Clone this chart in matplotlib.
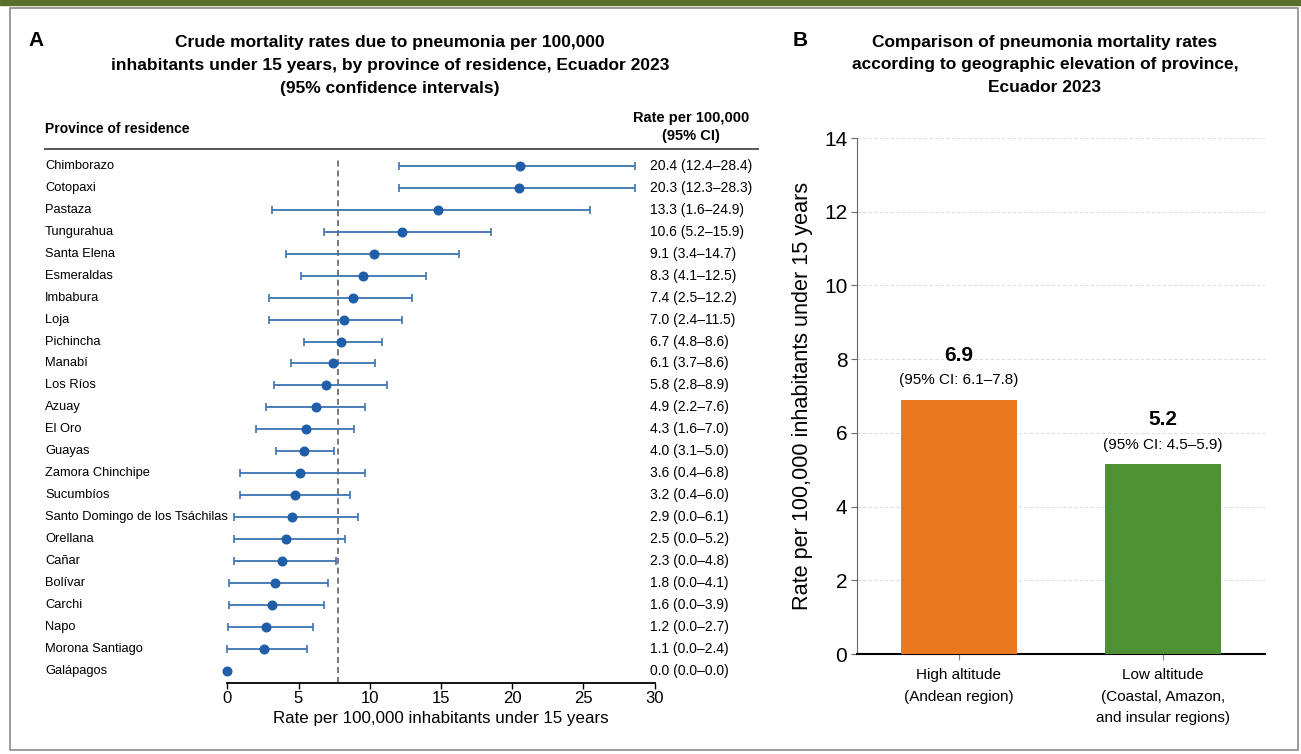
import numpy as np
import matplotlib.pyplot as plt
from matplotlib.patches import Rectangle
from matplotlib.transforms import blended_transform_factory

plt.rcParams['font.family'] = ['Liberation Sans', 'DejaVu Sans']

# ---- panel A data ----
provinces = ['Chimborazo', 'Cotopaxi', 'Pastaza', 'Tungurahua', 'Santa Elena', 'Esmeraldas',
             'Imbabura', 'Loja', 'Pichincha', 'Manabí', 'Los Ríos', 'Azuay', 'El Oro', 'Guayas',
             'Zamora Chinchipe', 'Sucumbíos', 'Santo Domingo de los Tsáchilas', 'Orellana',
             'Cañar', 'Bolívar', 'Carchi', 'Napo', 'Morona Santiago', 'Galápagos']
# positions as drawn in the plot
rate_pt = [20.55, 20.5, 14.8, 12.3, 10.3, 9.55, 8.8, 8.2, 8.0, 7.4, 6.9, 6.2, 5.5, 5.4,
           5.1, 4.75, 4.55, 4.15, 3.85, 3.35, 3.15, 2.75, 2.55, 0.0]
ci_low = [12.05, 12.05, 3.15, 6.8, 4.15, 5.15, 2.95, 2.95, 5.4, 4.45, 3.25, 2.7, 2.0, 3.45,
          0.9, 0.9, 0.5, 0.5, 0.45, 0.15, 0.15, 0.05, 0.0, 0.0]
ci_high = [28.65, 28.65, 25.5, 18.55, 16.3, 13.95, 12.95, 12.25, 10.85, 10.4, 11.2, 9.7, 8.9, 7.5,
           9.65, 8.65, 9.15, 8.25, 7.65, 7.05, 6.8, 6.05, 5.6, 0.0]
# printed values (right column)
rate_txt = [20.4, 20.3, 13.3, 10.6, 9.1, 8.3, 7.4, 7.0, 6.7, 6.1, 5.8, 4.9, 4.3, 4.0,
            3.6, 3.2, 2.9, 2.5, 2.3, 1.8, 1.6, 1.2, 1.1, 0.0]
lo_txt = [12.4, 12.3, 1.6, 5.2, 3.4, 4.1, 2.5, 2.4, 4.8, 3.7, 2.8, 2.2, 1.6, 3.1,
          0.4, 0.4, 0.0, 0.0, 0.0, 0.0, 0.0, 0.0, 0.0, 0.0]
hi_txt = [28.4, 28.3, 24.9, 15.9, 14.7, 12.5, 12.2, 11.5, 8.6, 8.6, 8.9, 7.6, 7.0, 5.0,
          6.8, 6.0, 6.1, 5.2, 4.8, 4.1, 3.9, 2.7, 2.4, 0.0]
national_rate = 7.75

# ---- panel B data ----
regions = ['High altitude\n(Andean region)', 'Low altitude\n(Coastal, Amazon,\nand insular regions)']
region_rate = [6.9, 5.15]
region_label = ['6.9', '5.2']
region_ci = ['6.1–7.8', '4.5–5.9']
region_colors = ['#E8771D', '#4E9134']

W, H = 1301, 754
fig = plt.figure(figsize=(W / 100, H / 100), dpi=100)

# frame and top band
fig.patches.append(Rectangle((0, 1 - 5 / H), 1, 5 / H, transform=fig.transFigure,
                             color='#5b6e2b', zorder=0))
fig.patches.append(Rectangle((10 / W, 4 / H), 1288 / W, 1 - 12 / H, transform=fig.transFigure,
                             fill=False, edgecolor='#8a8a8a', linewidth=1.2, zorder=0))

# ================= Panel A =================
axA = fig.add_axes([227.3 / W, 1 - 683 / H, 427.2 / W, 533 / H])
y = np.arange(len(provinces))
xerr = [np.array(rate_pt) - np.array(ci_low), np.array(ci_high) - np.array(rate_pt)]
axA.errorbar(rate_pt, y, xerr=xerr, fmt='none', ecolor='#3b73b2', elinewidth=1.3,
             capsize=2.6, capthick=1.2, clip_on=False, zorder=3)
axA.plot(rate_pt, y, 'o', color='#1f5ea8', markersize=6.2, clip_on=False, zorder=4)
axA.axvline(national_rate, ymax=0.985, color='#555555', linestyle=(0, (4, 2.5)),
            linewidth=1.1, zorder=2)

axA.set_xlim(0, 30)
axA.set_ylim(23.55, -0.72)
axA.set_xticks([0, 5, 10, 15, 20, 25, 30])
axA.set_yticks([])
for s in ['left', 'top', 'right']:
    axA.spines[s].set_visible(False)
axA.spines['bottom'].set_linewidth(1.3)
axA.tick_params(axis='x', length=4, width=1, labelsize=12, pad=2)
axA.set_xlabel('Rate per 100,000 inhabitants under 15 years', fontsize=12.2, labelpad=3)

trA = blended_transform_factory(fig.transFigure, axA.transData)
for i, name in enumerate(provinces):
    axA.text(45 / W, i, name, transform=trA, ha='left', va='center', fontsize=9.3)
    axA.text(650 / W, i, f'{rate_txt[i]:.1f} ({lo_txt[i]:.1f}–{hi_txt[i]:.1f})',
             transform=trA, ha='left', va='center', fontsize=10)

fig.text(45 / W, 1 - 129 / H, 'Province of residence', fontsize=10, fontweight='bold',
         ha='left', va='center')
fig.text(691 / W, 1 - 127 / H, 'Rate per 100,000\n(95% CI)', fontsize=10.5, fontweight='bold',
         ha='center', va='center', linespacing=1.4)
fig.add_artist(plt.Line2D([45 / W, 758 / W], [1 - 149 / H, 1 - 149 / H],
                          color='#555555', linewidth=1.4))

fig.text(28 / W, 1 - 40 / H, 'A', fontsize=15, fontweight='bold', ha='left', va='center')
fig.text(390 / W, 1 - 65.5 / H,
         'Crude mortality rates due to pneumonia per 100,000\n'
         'inhabitants under 15 years, by province of residence, Ecuador 2023\n'
         '(95% confidence intervals)',
         fontsize=12.5, fontweight='bold', ha='center', va='center', linespacing=1.65)

# ================= Panel B =================
axB = fig.add_axes([857 / W, 1 - 654 / H, 408 / W, 516 / H])
xb = np.arange(len(regions))
axB.bar(xb, region_rate, width=0.57, color=region_colors, zorder=3)
axB.set_xlim(-0.5, 1.5)
axB.set_ylim(0, 14)
axB.set_yticks(np.arange(0, 15, 2))
axB.set_xticks(xb)
axB.set_xticklabels(regions, fontsize=11, linespacing=1.7)
axB.yaxis.grid(True, color='#dddddd', linestyle=(0, (3, 2)), linewidth=0.8, zorder=0)
for s in ['top', 'right']:
    axB.spines[s].set_visible(False)
axB.spines['left'].set_color('#666666')
axB.spines['bottom'].set_linewidth(1.5)
axB.tick_params(axis='y', labelsize=15, length=4, color='#666666', pad=3)
axB.tick_params(axis='x', length=4, color='#888888', pad=6)
axB.set_ylabel('Rate per 100,000 inhabitants under 15 years', fontsize=15.6, labelpad=8)

for i in range(len(regions)):
    axB.annotate(region_label[i], (xb[i], region_rate[i]), xytext=(0, 32),
                 textcoords='offset points', ha='center', va='center',
                 fontsize=15, fontweight='bold')
    axB.annotate(f'(95% CI: {region_ci[i]})', (xb[i], region_rate[i]), xytext=(0, 14),
                 textcoords='offset points', ha='center', va='center', fontsize=11)

fig.text(800 / W, 1 - 40 / H, 'B', fontsize=15, fontweight='bold', ha='center', va='center')
fig.text(1045 / W, 1 - 65 / H,
         'Comparison of pneumonia mortality rates\n'
         'according to geographic elevation of province,\n'
         'Ecuador 2023',
         fontsize=12.5, fontweight='bold', ha='center', va='center', linespacing=1.65)

fig.savefig('out.png', dpi=100)
